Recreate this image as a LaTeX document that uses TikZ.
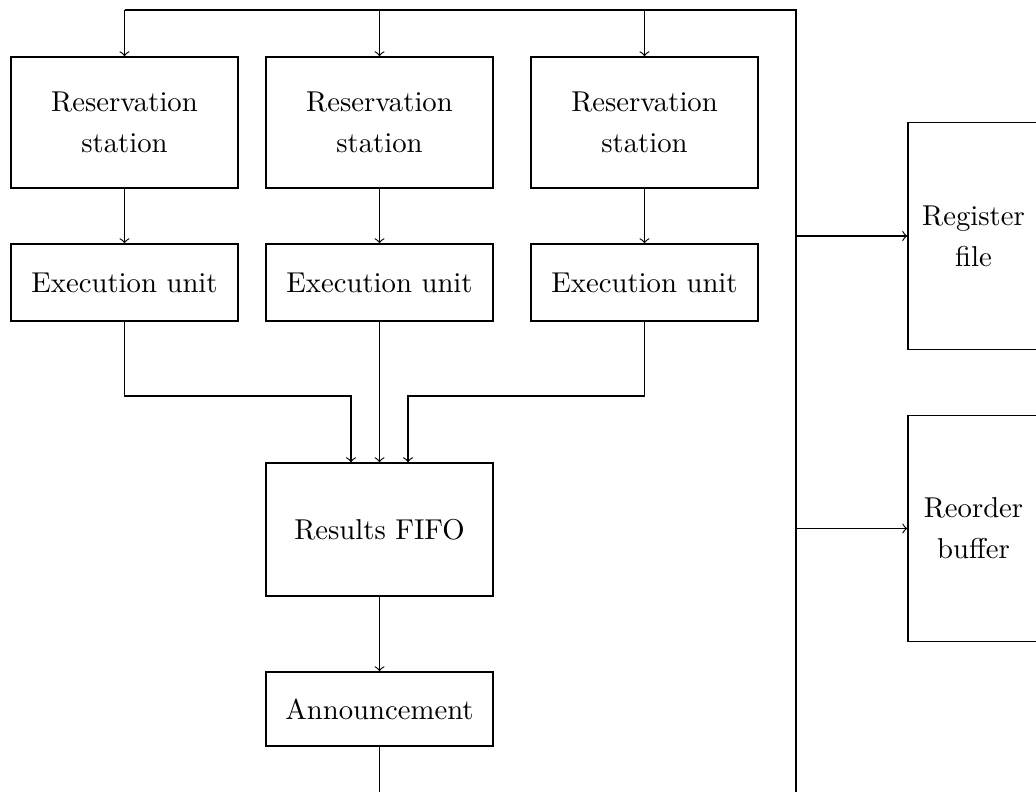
\documentclass[tikz,border=0pt]{standalone}
\usetikzlibrary{calc}
\begin{document}
\begin{tikzpicture}[x=0.34843pt,y=-0.34843pt,
  box/.style={draw, rectangle, inner sep=0pt, align=center},
  wide/.style={box, minimum width=79.09pt},
  side/.style={box, minimum width=45.64pt, minimum height=79pt},
  link/.style={->}]
\useasboundingbox (0,0) rectangle (1036,792);

% reservation stations
\node[wide, minimum height=45.64pt] (rs1) at (124.5,122.5) {Reservation\\[2.3pt]station};
\node[wide, minimum height=45.64pt] (rs2) at (379.5,122.5) {Reservation\\[2.3pt]station};
\node[wide, minimum height=45.64pt] (rs3) at (644.5,122.5) {Reservation\\[2.3pt]station};

% execution units
\node[wide, minimum height=26.83pt] (eu1) at (124.5,282.5) {Execution unit};
\node[wide, minimum height=26.83pt] (eu2) at (379.5,282.5) {Execution unit};
\node[wide, minimum height=26.83pt] (eu3) at (644.5,282.5) {Execution unit};

% results path
\node[wide, minimum height=46.34pt] (fifo) at (379.5,529.5) {Results FIFO};
\node[wide, minimum height=25.78pt] (ann) at (379.5,709) {Announcement};

% register file and reorder buffer
\node[side] (reg) at (973.5,236) {Register\\[2.3pt]file};
\node[side] (rob) at (973.5,528.5) {Reorder\\[2.3pt]buffer};

% common bus
\coordinate (bus) at (796,10);
\coordinate (busend) at (796,792);
\coordinate (annout) at (379.5,792);
\draw (rs1.north |- bus) -- (bus) -- (busend);
\foreach \r in {rs1,rs2,rs3}
  \draw[link] (\r.north |- bus) -- (\r.north);

% stations to execution units
\foreach \i in {1,2,3}
  \draw[link] (rs\i.south) -- (eu\i.south |- eu\i.north);

% execution units into the FIFO
\coordinate (j1) at (351,396);
\coordinate (j3) at (408,396);
\draw[link] (eu1.south) |- (j1) -- (j1 |- fifo.north);
\draw[link] (eu2.south) -- (fifo.north);
\draw[link] (eu3.south) |- (j3) -- (j3 |- fifo.north);

% FIFO to announcement and onward
\draw[link] (fifo.south) -- (ann.north);
\draw (ann.south) -- (annout);

% bus feeds
\draw[link] (reg.west -| bus) -- (reg.west);
\draw[link] (rob.west -| bus) -- (rob.west);
\end{tikzpicture}
\end{document}
